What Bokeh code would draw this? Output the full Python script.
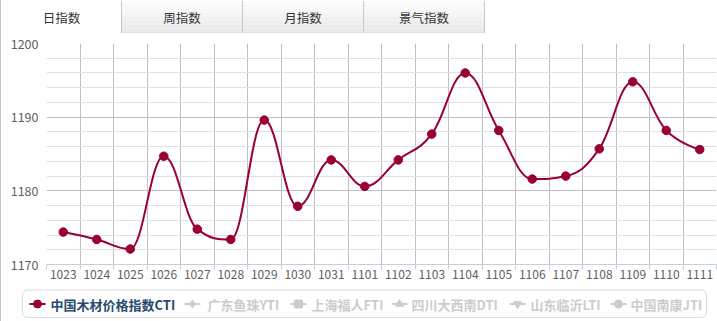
from bokeh.plotting import figure
from bokeh.layouts import column
from bokeh.models import Range1d, FixedTicker, BoxAnnotation, ColumnDataSource
from bokeh.core.properties import value
from bokeh.embed import file_html
from bokeh.resources import INLINE

FONT = "Noto Sans CJK SC"

# ---------------- data ----------------
categories = ["1023", "1024", "1025", "1026", "1027", "1028", "1029", "1030", "1031", "1101",
              "1102", "1103", "1104", "1105", "1106", "1107", "1108", "1109", "1110", "1111"]
cti_values = [1174.4, 1173.4, 1172.1, 1184.7, 1174.8, 1173.4, 1189.6, 1177.9, 1184.2, 1180.6,
              1184.2, 1187.7, 1196.0, 1188.2, 1181.6, 1182.0, 1185.7, 1194.8, 1188.2, 1185.6]
y_ticks = [1170, 1180, 1190, 1200]
y_minor = [1172, 1174, 1176, 1178, 1182, 1184, 1186, 1188, 1192, 1194, 1196, 1198]
tab_labels = ["日指数", "周指数", "月指数", "景气指数"]
series_names = ["中国木材价格指数CTI", "广东鱼珠YTI", "上海福人FTI", "四川大西南DTI", "山东临沂LTI", "中国南康JTI"]
series_markers = ["circle", "diamond", "square", "triangle", "inverted_triangle", "circle"]
series_visible = [True, False, False, False, False, False]

LINE_COLOR = "#990033"
BORDER = "#c8c8c8"
W = 716

# ---------------- tabs ----------------
t = figure(width=W, height=33, x_range=Range1d(0, W), y_range=Range1d(33, 0),
           output_backend="svg", toolbar_location=None, min_border=0,
           x_axis_location=None, y_axis_location=None, frame_align=False)
t.grid.visible = False
t.outline_line_color = None
t.background_fill_color = "white"
t.border_fill_color = "white"

edges = [0, 120, 241, 362, 483]
n_str = 8
ql, qr, qt, qb, qc = [], [], [], [], []
for k in range(1, 4):
    for s in range(n_str):
        f = s / (n_str - 1)
        c = int(round(252 - f * (252 - 233)))
        ql.append(edges[k]); qr.append(edges[k + 1])
        qt.append(s * 32 / n_str); qb.append((s + 1) * 32 / n_str)
        qc.append("#%02x%02x%02x" % (c, c, c))
t.quad(left=ql, right=qr, top=qt, bottom=qb, fill_color=qc, line_color=None)
t.segment(x0=edges[1:], y0=[0] * 4, x1=edges[1:], y1=[33, 32, 32, 32], line_color=BORDER, line_width=1)
t.segment(x0=[edges[1]], y0=[32.5], x1=[edges[4]], y1=[32.5], line_color=BORDER, line_width=1)
centers = [(edges[i] + edges[i + 1]) / 2 for i in range(4)]
t.text(x=centers, y=[16.5] * 4, text=tab_labels, text_align="center", text_baseline="middle",
       text_font=value(FONT), text_font_size="12.5px", text_color="#333333")

# ---------------- main chart ----------------
xs = list(range(len(categories)))
p = figure(width=W, height=252, x_range=Range1d(-0.5, len(categories) - 0.5),
           y_range=Range1d(1170, 1200), output_backend="svg", toolbar_location=None,
           min_border_left=45, min_border_right=1, min_border_top=10, min_border_bottom=21,
           frame_align=False)
p.outline_line_color = None
p.background_fill_color = "white"
p.border_fill_color = "white"

# x axis
p.xaxis.ticker = FixedTicker(ticks=xs, minor_ticks=[i - 0.5 for i in range(len(categories) + 1)])
p.xaxis.major_label_overrides = {i: c for i, c in enumerate(categories)}
p.xaxis.major_tick_out = 0
p.xaxis.major_tick_in = 0
p.xaxis.minor_tick_out = 5
p.xaxis.minor_tick_in = 0
p.xaxis.minor_tick_line_color = "#C0D0E0"
p.xaxis.axis_line_color = "#C0D0E0"
p.xaxis.major_label_standoff = 0
p.xaxis.major_label_text_font = FONT
p.xaxis.major_label_text_font_size = "12px"
p.xaxis.major_label_text_color = "#606060"

# y axis
p.yaxis.ticker = FixedTicker(ticks=y_ticks, minor_ticks=y_minor)
p.yaxis.axis_line_color = None
p.yaxis.major_tick_out = 0
p.yaxis.major_tick_in = 0
p.yaxis.minor_tick_out = 0
p.yaxis.minor_tick_in = 0
p.yaxis.major_tick_line_color = None
p.yaxis.minor_tick_line_color = None
p.yaxis.major_label_standoff = 8
p.yaxis.major_label_text_font = FONT
p.yaxis.major_label_text_font_size = "12.5px"
p.yaxis.major_label_text_color = "#606060"

# grids
p.xgrid.ticker = FixedTicker(ticks=[i - 0.5 for i in range(len(categories) + 1)])
p.xgrid.grid_line_color = "#c0c0c0"
p.ygrid.grid_line_color = "#c0c0c0"
p.ygrid.minor_grid_line_color = "#e0e0e0"

# spline (Highcharts-style smoothing) drawn with bezier segments
def spline_controls(xv, yv, smoothing=1.5):
    n = len(xv)
    lc = [(xv[i], yv[i]) for i in range(n)]
    rc = [(xv[i], yv[i]) for i in range(n)]
    d = smoothing + 1
    for i in range(1, n - 1):
        px, py = xv[i], yv[i]
        lx, ly = xv[i - 1], yv[i - 1]
        nx, ny = xv[i + 1], yv[i + 1]
        lcx = (smoothing * px + lx) / d
        lcy = (smoothing * py + ly) / d
        rcx = (smoothing * px + nx) / d
        rcy = (smoothing * py + ny) / d
        corr = ((rcy - lcy) * (rcx - px)) / (rcx - lcx) + py - rcy
        lcy += corr
        rcy += corr
        if lcy > ly and lcy > py:
            lcy = max(ly, py); rcy = 2 * py - lcy
        elif lcy < ly and lcy < py:
            lcy = min(ly, py); rcy = 2 * py - lcy
        if rcy > ny and rcy > py:
            rcy = max(ny, py); lcy = 2 * py - rcy
        elif rcy < ny and rcy < py:
            rcy = min(ny, py); lcy = 2 * py - rcy
        lc[i] = (lcx, lcy)
        rc[i] = (rcx, rcy)
    return lc, rc

lc, rc = spline_controls(xs, cti_values)
seg = ColumnDataSource(dict(
    x0=xs[:-1], y0=cti_values[:-1], x1=xs[1:], y1=cti_values[1:],
    cx0=[rc[i][0] for i in range(len(xs) - 1)], cy0=[rc[i][1] for i in range(len(xs) - 1)],
    cx1=[lc[i][0] for i in range(1, len(xs))], cy1=[lc[i][1] for i in range(1, len(xs))],
))
p.bezier(x0="x0", y0="y0", x1="x1", y1="y1", cx0="cx0", cy0="cy0", cx1="cx1", cy1="cy1",
         source=seg, line_color=LINE_COLOR, line_width=2)
p.scatter(xs, cti_values, marker="circle", size=8.5, fill_color=LINE_COLOR, line_color=LINE_COLOR)

# ---------------- legend ----------------
lg = figure(width=W, height=36, x_range=Range1d(0, W), y_range=Range1d(36, 0),
            output_backend="svg", toolbar_location=None, min_border=0,
            x_axis_location=None, y_axis_location=None, frame_align=False)
lg.grid.visible = False
lg.outline_line_color = None
lg.background_fill_color = "white"
lg.border_fill_color = "white"
lg.add_layout(BoxAnnotation(left=21, right=705, top=4.5, bottom=32, fill_color="white", fill_alpha=1,
                            line_color="#909090", line_width=1, border_radius=5, level="underlay"))
marker_x = [36, 191, 297, 398, 516, 617]
text_x = [49, 206, 310, 410, 529, 629]
ly = 18.5
for i, name in enumerate(series_names):
    col = LINE_COLOR if series_visible[i] else "#cccccc"
    tcol = "#274b6d" if series_visible[i] else "#cccccc"
    lg.segment(x0=[marker_x[i] - 8], y0=[ly], x1=[marker_x[i] + 8], y1=[ly], line_color=col, line_width=2)
    lg.scatter([marker_x[i]], [ly], marker=series_markers[i], size=8, fill_color=col, line_color=col)
    lg.text(x=[text_x[i]], y=[ly + 0.5], text=[name], text_align="left", text_baseline="middle",
            text_font=value(FONT), text_font_size="13px", text_font_style="bold", text_color=tcol)

layout = column(t, p, lg, spacing=0, styles={"border-left": "1px solid #c8c8c8"})
open("out.html", "w").write(file_html(layout, INLINE))
